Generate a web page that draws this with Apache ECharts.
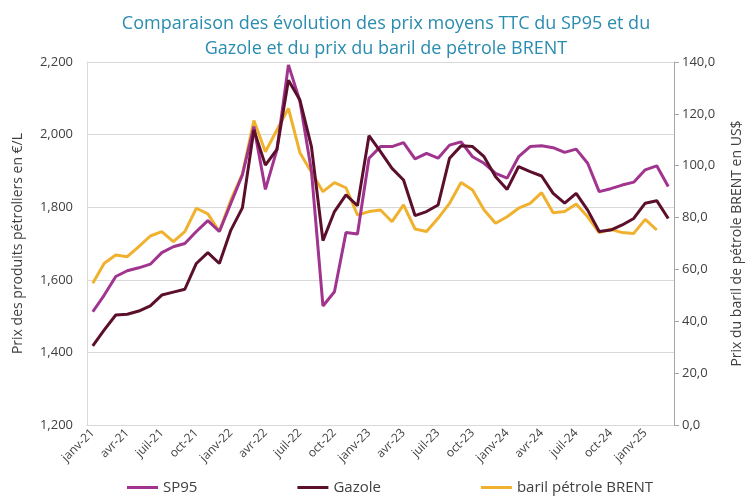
<!DOCTYPE html>
<html>
<head>
<meta charset="utf-8">
<script src="https://cdn.jsdelivr.net/npm/echarts@6/dist/echarts.min.js"></script>
<style>
  html, body { margin: 0; padding: 0; background: #fff; }
  #main { width: 752px; height: 500px; }
</style>
</head>
<body>
<div id="main"></div>
<script>
'use strict'

// months janv-21 .. mars-25
const monthNames = ['janv', 'févr', 'mars', 'avr', 'mai', 'juin', 'juil', 'août', 'sept', 'oct', 'nov', 'déc'];
const months = [];
for (let y = 21; y <= 25; y++) {
    for (let m = 0; m < 12; m++) {
        if (y === 25 && m > 2) break;
        months.push(monthNames[m] + '-' + y);
    }
}

const sp95 = [1.512, 1.558, 1.609, 1.625, 1.633, 1.643, 1.675, 1.691, 1.700, 1.733,
    1.763, 1.733, 1.811, 1.889, 2.022, 1.849, 1.958, 2.192, 2.092, 1.900,
    1.528, 1.567, 1.730, 1.726, 1.935, 1.967, 1.967, 1.978, 1.933, 1.948,
    1.935, 1.971, 1.980, 1.939, 1.921, 1.893, 1.880, 1.939, 1.967, 1.969,
    1.964, 1.951, 1.960, 1.921, 1.843, 1.851, 1.861, 1.869, 1.903, 1.914,
    1.857];

const gazole = [1.418, 1.462, 1.503, 1.505, 1.514, 1.528, 1.558, 1.566, 1.574, 1.645,
    1.675, 1.645, 1.737, 1.798, 2.013, 1.916, 1.959, 2.150, 2.095, 1.967,
    1.708, 1.788, 1.834, 1.804, 1.997, 1.953, 1.907, 1.875, 1.777, 1.788,
    1.806, 1.935, 1.969, 1.967, 1.939, 1.884, 1.849, 1.912, 1.898, 1.886,
    1.838, 1.811, 1.838, 1.792, 1.733, 1.737, 1.751, 1.769, 1.811, 1.818,
    1.769];

const brent = [54.7, 62.4, 65.6, 64.9, 68.8, 72.9, 74.6, 70.7, 74.6, 83.6,
    81.4, 74.6, 86.8, 96.8, 117.4, 105.4, 113.8, 122.1, 105.0, 97.5,
    90.0, 93.5, 91.5, 81.0, 82.3, 82.9, 78.4, 84.9, 75.6, 74.6,
    79.7, 85.5, 93.5, 90.6, 82.9, 77.8, 80.3, 83.6, 85.5, 89.6,
    81.9, 82.3, 85.2, 80.3, 74.2, 75.5, 74.2, 73.9, 79.3, 75.2];

const fontFam = '"Open Sans", Lato, sans-serif';
const txt = '#404040';

var myChart = echarts.init(document.getElementById('main'));

var option = {
    textStyle: { fontFamily: fontFam },
    title: {
        text: 'Comparaison des évolution des prix moyens TTC du SP95 et du\nGazole et du prix du baril de pétrole BRENT',
        left: 381,
        top: 6,
        textAlign: 'center',
        textStyle: {
            color: '#2a8cae',
            fontSize: 18,
            fontWeight: 'normal',
            lineHeight: 25,
            fontFamily: fontFam
        }
    },
    legend: {
        left: 122,
        bottom: 0,
        itemWidth: 31,
        itemHeight: 3,
        itemGap: 100,
        icon: 'rect',
        textStyle: { color: txt, fontSize: 15, fontFamily: fontFam },
        data: ['SP95', 'Gazole', 'baril pétrole BRENT']
    },
    grid: { left: 87, right: 72, top: 62, bottom: 75 },
    xAxis: {
        type: 'category',
        data: months,
        boundaryGap: true,
        axisLine: { lineStyle: { color: '#d9d9d9' } },
        axisTick: { show: false },
        axisLabel: {
            interval: 2,
            rotate: 45,
            color: txt,
            fontSize: 12,
            margin: 6
        }
    },
    yAxis: [
        {
            type: 'value',
            min: 1.2,
            max: 2.2,
            interval: 0.2,
            name: 'Prix des produits pétroliers en €/L',
            nameLocation: 'middle',
            nameGap: 62,
            nameTextStyle: { color: txt, fontSize: 14 },
            axisLine: { show: true, lineStyle: { color: '#d9d9d9' } },
            axisTick: { show: false },
            splitLine: { lineStyle: { color: '#d9d9d9' } },
            axisLabel: {
                color: txt,
                fontSize: 13,
                margin: 14,
                formatter: v => v.toFixed(3).replace('.', ',')
            }
        },
        {
            type: 'value',
            min: 0,
            max: 140,
            interval: 20,
            name: 'Prix du baril de pétrole BRENT en US$',
            nameLocation: 'middle',
            nameGap: 56,
            nameRotate: 90,
            nameTextStyle: { color: txt, fontSize: 14 },
            axisLine: { show: true, lineStyle: { color: '#a6a6a6' } },
            axisTick: { show: true, inside: false, length: 5, lineStyle: { color: '#a6a6a6' } },
            splitLine: { show: false },
            axisLabel: {
                color: txt,
                fontSize: 13,
                margin: 8,
                formatter: v => v.toFixed(1).replace('.', ',')
            }
        }
    ],
    series: [
        {
            name: 'SP95',
            type: 'line',
            data: sp95,
            yAxisIndex: 0,
            symbol: 'none',
            itemStyle: { color: '#a0348f' },
            lineStyle: { width: 3, color: '#a0348f' }
        },
        {
            name: 'Gazole',
            type: 'line',
            data: gazole,
            yAxisIndex: 0,
            symbol: 'none',
            itemStyle: { color: '#5b0f2c' },
            lineStyle: { width: 3, color: '#5b0f2c' }
        },
        {
            name: 'baril pétrole BRENT',
            type: 'line',
            data: brent,
            yAxisIndex: 1,
            symbol: 'none',
            z: 1,
            itemStyle: { color: '#f0b12f' },
            lineStyle: { width: 3, color: '#f0b12f' }
        }
    ]
};

myChart.setOption(option);
</script>
</body>
</html>
